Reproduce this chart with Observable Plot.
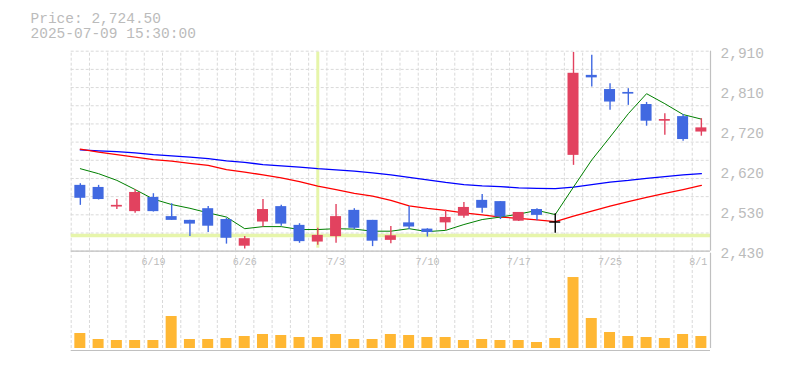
<!DOCTYPE html>
<html>
<head>
<meta charset="utf-8">
<script src="https://cdn.jsdelivr.net/npm/d3@7"></script>
<script src="https://cdn.jsdelivr.net/npm/@observablehq/plot@0.6"></script>
<style>
  html, body { margin: 0; padding: 0; background: #fff; }
  #chart { position: relative; width: 785px; height: 370px; overflow: hidden; }
  #chart svg { position: absolute; left: 0; background: transparent; overflow: visible; }
</style>
</head>
<body>
<div id="chart"></div>
<script>
// ---- data ----
const dates = ["6/13","6/16","6/17","6/18","6/19","6/20","6/23","6/24","6/25","6/26","6/27","6/30","7/1","7/2","7/3","7/4","7/7","7/8","7/9","7/10","7/11","7/14","7/15","7/16","7/17","7/18","7/22","7/23","7/24","7/25","7/28","7/29","7/30","7/31","8/1"];
const open  = [2588,2583,2536,2525,2559,2513,2504,2532,2506,2442,2500,2537,2492,2452,2465,2528,2504,2456,2498,2483,2498,2514,2552,2549,2502,2530,2500,2660,2852,2818,2811,2782,2742,2753,2716];
const high  = [2592,2588,2554,2578,2568,2544,2504,2537,2509,2465,2554,2540,2496,2485,2542,2532,2504,2489,2537,2484,2528,2547,2566,2549,2523,2532,2520,2907,2900,2832,2820,2787,2760,2758,2748];
const low   = [2540,2553,2530,2521,2524,2504,2465,2475,2447,2435,2488,2490,2449,2444,2449,2482,2441,2448,2482,2464,2480,2509,2521,2506,2501,2503,2473,2636,2824,2768,2780,2730,2708,2694,2706];
const close = [2557,2554,2540,2571,2525,2504,2495,2490,2461,2460,2530,2495,2453,2468,2513,2485,2454,2467,2488,2475,2511,2535,2533,2512,2523,2516,2500,2857,2846,2788,2807,2742,2746,2698,2726];
const ma5   = [2628,2616,2600,2578,2555,2542,2533,2522,2512,2484,2489,2489,2482,2482,2484,2483,2478,2478,2484,2477,2480,2494,2506,2512,2519,2528,2518,2584,2649,2704,2760,2808,2784,2758,2747];
const ma25  = [2675,2668,2662,2656,2650,2646,2641,2636,2626,2620,2613,2606,2597,2586,2578,2569,2562,2552,2539,2533,2528,2522,2517,2512,2509,2505,2501,2514,2526,2538,2549,2559,2569,2578,2588];
const ma75  = [2673,2671,2669,2666,2662,2659,2656,2652,2647,2643,2638,2635,2632,2628,2625,2622,2618,2613,2607,2601,2595,2590,2587,2585,2582,2581,2580,2584,2590,2596,2600,2605,2609,2613,2616];
const volume = [45000,27000,24000,24000,24000,96000,27000,27000,30000,36000,42000,39000,33000,33000,42000,27000,27000,42000,39000,33000,33000,24000,27000,24000,24000,18000,30000,213000,90000,48000,36000,33000,30000,42000,36000];
const dateTickLabels = ["6/19","6/26","7/3","7/10","7/17","7/25","8/1"];
const priceTicks = [2430,2526,2622,2718,2814,2910];
const priceTickLabels = ["2,430","2,530","2,620","2,720","2,810","2,910"];
const headerPrice = "Price: 2,724.50";
const headerTime = "2025-07-09 15:30:00";
const crosshairIndex = 13;
const crosshairPrice = 2467.7;

// ---- styling ----
const FONT = "'Liberation Mono', 'DejaVu Sans Mono', monospace";
const UP = "#e2425f", DOWN = "#4169e1", DOJI = "#000000";
const GRID = "#d9d9d9", AXIS = "#c0c0c0", TEXT = "#bbbbbb";
const HILITE = "#e6f5aa", VOL = "#ffb733";

const rows = dates.map((d, i) => ({
  i, date: d, open: open[i], high: high[i], low: low[i], close: close[i],
  ma5: ma5[i], ma25: ma25[i], ma75: ma75[i], volume: volume[i],
  color: close[i] > open[i] ? UP : close[i] < open[i] ? DOWN : DOJI
}));
const n = dates.length;
const xLeft = 70.7, xRight = 710;
const inset = ((xRight - xLeft) / n - 11) / 2;
const xScale = {type: "linear", domain: [0, n], range: [xLeft, xRight], axis: null};
const yMin = 2430, yMax = 2910;
const hGrid = d3.range(12).map(k => yMin + k * (yMax - yMin) / 11);
const vGrid = d3.range(0, n);
const tickRows = dateTickLabels.map(l => ({label: l, i: dates.indexOf(l)}));

// ---- price panel ----
const price = Plot.plot({
  width: 785, height: 370,
  marginTop: 50.7, marginBottom: 119.3, marginLeft: xLeft, marginRight: 785 - xRight,
  x: xScale,
  y: {domain: [yMin, yMax], range: [250.7, 50.7], axis: null},
  style: {fontFamily: FONT, background: "transparent"},
  marks: [
    Plot.ruleY(hGrid, {y: d => d, x1: 0, x2: n, stroke: GRID, strokeDasharray: "3,2"}),
    Plot.ruleX(vGrid, {x: d => d, y1: yMin, y2: yMax, stroke: GRID, strokeDasharray: "3,2"}),
    Plot.ruleY([crosshairPrice], {y: d => d, x1: 0, x2: n, stroke: HILITE, strokeWidth: 3.5}),
    Plot.ruleX([crosshairIndex + 0.5], {x: d => d, y1: yMax, y2: yMin, insetTop: 1, insetBottom: 3, stroke: HILITE, strokeWidth: 3}),
    Plot.line(rows, {x: d => d.i + 0.5, y: "ma75", stroke: "#0000ff", strokeWidth: 1.3}),
    Plot.line(rows, {x: d => d.i + 0.5, y: "ma25", stroke: "#ff0000", strokeWidth: 1.3}),
    Plot.line(rows, {x: d => d.i + 0.5, y: "ma5", stroke: "#008000", strokeWidth: 1}),
    Plot.ruleX(rows, {x: d => d.i + 0.5, y1: "low", y2: "high", stroke: "color", strokeWidth: 1.4}),
    Plot.rectY(rows.filter(d => d.open !== d.close), {x1: d => d.i, x2: d => d.i + 1, y1: "open", y2: "close", fill: "color", insetLeft: inset, insetRight: inset}),
    Plot.ruleY(rows.filter(d => d.open === d.close), {y: "close", x1: d => d.i, x2: d => d.i + 1, insetLeft: inset, insetRight: inset, stroke: "color", strokeWidth: 1.4}),
    Plot.ruleY([yMin], {y: d => d, x1: 0, x2: n, stroke: AXIS, strokeWidth: 1.2}),
    Plot.ruleX([n], {x: d => d, y1: yMin, y2: yMax, stroke: AXIS, strokeWidth: 1.2}),
    Plot.text(priceTicks, {x: n, y: d => d, text: (d, k) => priceTickLabels[k], textAnchor: "start", lineAnchor: "middle", dx: 10, dy: 2, fill: TEXT, fontSize: 14.5, fontFamily: FONT}),
    Plot.text([headerPrice], {frameAnchor: "top-left", text: d => d, dx: 30 - xLeft, dy: 17.5 - 50.7, lineAnchor: "middle", textAnchor: "start", fill: TEXT, fontSize: 14.5, fontFamily: FONT}),
    Plot.text([headerTime], {frameAnchor: "top-left", text: d => d, dx: 30 - xLeft, dy: 32.5 - 50.7, lineAnchor: "middle", textAnchor: "start", fill: TEXT, fontSize: 14.5, fontFamily: FONT})
  ]
});

// ---- volume panel ----
const vol = Plot.plot({
  width: 785, height: 120,
  marginTop: 0.7, marginBottom: 20, marginLeft: xLeft, marginRight: 785 - xRight,
  x: xScale,
  y: {domain: [0, 292000], range: [98, 0.7], axis: null},
  style: {fontFamily: FONT, background: "transparent"},
  marks: [
    Plot.ruleX(vGrid, {x: d => d, y1: 0, y2: 292000, insetBottom: -2, stroke: GRID, strokeDasharray: "3,2"}),
    Plot.rectY(rows, {x1: d => d.i, x2: d => d.i + 1, y1: 0, y2: "volume", fill: VOL, insetLeft: inset, insetRight: inset}),
    Plot.text(tickRows.filter(d => d.i !== n - 1), {x: d => d.i + 0.5, frameAnchor: "top", text: "label", lineAnchor: "middle", dy: 11, fill: TEXT, fontSize: 10, fontFamily: FONT}),
    Plot.text(tickRows.filter(d => d.i === n - 1), {x: d => d.i + 0.5, frameAnchor: "top", text: "label", lineAnchor: "middle", dy: 11, dx: -3, fill: TEXT, fontSize: 10, fontFamily: FONT}),
    Plot.ruleX([n], {x: d => d, y1: 0, y2: 292000, insetBottom: -2, stroke: AXIS, strokeWidth: 1.2}),
    Plot.ruleY([0], {y: d => d, x1: 0, x2: n, dy: 2, stroke: AXIS, strokeWidth: 1.2})
  ]
});

const chart = document.getElementById("chart");
price.style.top = "0px";
vol.style.top = "250px";
chart.appendChild(price);
chart.appendChild(vol);
</script>
</body>
</html>
